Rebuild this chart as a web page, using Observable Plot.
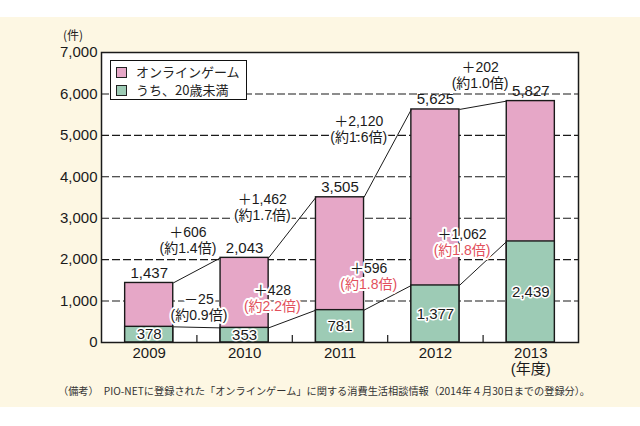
<!DOCTYPE html>
<html>
<head>
<meta charset="utf-8">
<script src="https://cdn.jsdelivr.net/npm/d3@7"></script>
<script src="https://cdn.jsdelivr.net/npm/@observablehq/plot@0.6"></script>
<style>
  body { margin: 0; background: #ffffff; }
  #wrap { position: relative; width: 640px; height: 426px; overflow: hidden; background: #ffffff;
          font-family: "Liberation Sans", "Noto Sans CJK JP", sans-serif; color: #222; }
  #cream { position: absolute; left: 0; top: 17px; width: 640px; height: 390px; background: #fdf7e3; }
  #chart { position: absolute; left: 0; top: 0; }
  #unit { position: absolute; left: 63px; top: 26px; font-size: 12px; font-family: "Noto Sans CJK JP", sans-serif; }
  #legend { position: absolute; left: 110px; top: 60px; width: 135px; height: 38px; border: 1.5px solid #111;
            background: #fff; font-family: "Noto Sans CJK JP", sans-serif; font-size: 13px; }
  .item { position: absolute; left: 5px; height: 14px; line-height: 14px; white-space: nowrap; }
  .sw { display: inline-block; width: 9px; height: 9px; border: 1px solid #222; vertical-align: -1px; margin-right: 9px; }
  #caption { position: absolute; left: 58px; top: 385px; font-size: 10.2px; line-height: 12px; white-space: nowrap;
             font-family: "Noto Sans CJK JP", sans-serif; color: #333; }
</style>
</head>
<body>
<div id="wrap">
  <div id="cream"></div>
  <div id="chart"></div>
  <div id="unit"></div>
  <div id="legend"></div>
  <div id="caption"></div>
</div>
<script>
// ---- data ----
const years = ["2009", "2010", "2011", "2012", "2013"];
const totalCases = [1437, 2043, 3505, 5625, 5827];
const under20Cases = [378, 353, 781, 1377, 2439];
const totalChangeLabels = ["＋606", "＋1,462", "＋2,120", "＋202"];
const totalRatioLabels = ["(約1.4倍)", "(約1.7倍)", "(約1.6倍)", "(約1.0倍)"];
const under20ChangeLabels = ["－25", "＋428", "＋596", "＋1,062"];
const under20RatioLabels = ["(約0.9倍)", "(約2.2倍)", "(約1.8倍)", "(約1.8倍)"];
const yTicks = [0, 1000, 2000, 3000, 4000, 5000, 6000, 7000];
const seriesNames = ["オンラインゲーム", "うち、20歳未満"];
const unitLabel = "(件)";
const xUnitLabel = "(年度)";
const captionText = "（備考）　PIO-NETに登録された「オンラインゲーム」に関する消費生活相談情報（2014年４月30日までの登録分）。";

// ---- layout / style ----
const pink = "#e6a7c7";
const green = "#9dcbb5";
const red = "#e2505c";
const ink = "#1a1a1a";
const barHalf = 0.252;
// pixel offsets of annotation blocks relative to the midpoint of each connector
const totalOffsets = [[-9, -30], [-30, -20], [-29, -24], [-3, -30]];
const u20Offsets = [[2, -20], [-20, -20], [-19, -21], [-21, -21]];

const rows = years.map((year, k) => ({ i: k + 1, year, total: totalCases[k], u20: under20Cases[k] }));
const pairs = rows.slice(0, -1).map((a, k) => ({ a, b: rows[k + 1], k }));
const fmt = d3.format(",");

const marks = [
  Plot.frame({ fill: "white" }),
  Plot.ruleY(yTicks.filter(v => v > 0 && v < 7000), { stroke: ink, strokeWidth: 1.1, strokeDasharray: "8,3" }),
  Plot.ruleX(pairs, { x: p => p.a.i + 0.5, y1: 0, y2: 170, stroke: ink, strokeWidth: 1.2 }),
  Plot.rectY(rows, { x1: d => d.i - barHalf, x2: d => d.i + barHalf, y1: 0, y2: "total", fill: pink, stroke: ink, strokeWidth: 1.4 }),
  Plot.rectY(rows, { x1: d => d.i - barHalf, x2: d => d.i + barHalf, y1: 0, y2: "u20", fill: green, stroke: ink, strokeWidth: 1.4 }),
  Plot.link(pairs, { x1: p => p.a.i + barHalf, y1: p => p.a.total, x2: p => p.b.i - barHalf, y2: p => p.b.total, stroke: ink, strokeWidth: 1 }),
  Plot.link(pairs, { x1: p => p.a.i + barHalf, y1: p => p.a.u20, x2: p => p.b.i - barHalf, y2: p => p.b.u20, stroke: ink, strokeWidth: 1 }),
  Plot.text(rows, { x: "i", y: "total", text: d => fmt(d.total), dy: -10, fontSize: 15, fill: ink }),
  Plot.text(rows, { x: "i", y: d => d.u20 / 2, text: d => fmt(d.u20), fontSize: 15, fill: ink, stroke: "white", strokeWidth: 3 })
];

pairs.forEach((p, k) => {
  const tx = p.a.i + 0.5, ty = (p.a.total + p.b.total) / 2;
  const [tdx, tdy] = totalOffsets[k];
  marks.push(Plot.text([p], { x: () => tx, y: () => ty, text: () => totalChangeLabels[k], dx: tdx, dy: tdy - 8, fontSize: 14, fill: ink, stroke: "white", strokeWidth: 4 }));
  marks.push(Plot.text([p], { x: () => tx, y: () => ty, text: () => totalRatioLabels[k], dx: tdx, dy: tdy + 8, fontSize: 14, fill: ink, stroke: "white", strokeWidth: 4 }));
  const uy = (p.a.u20 + p.b.u20) / 2;
  const [udx, udy] = u20Offsets[k];
  marks.push(Plot.text([p], { x: () => tx, y: () => uy, text: () => under20ChangeLabels[k], dx: udx, dy: udy - 8, fontSize: 14, fill: ink, stroke: "white", strokeWidth: 4 }));
  marks.push(Plot.text([p], { x: () => tx, y: () => uy, text: () => under20RatioLabels[k], dx: udx, dy: udy + 8, fontSize: 14, fill: k === 0 ? ink : red, stroke: "white", strokeWidth: 4 }));
});

marks.push(
  Plot.frame({ stroke: ink, strokeWidth: 1.5 }),
  Plot.axisY({ ticks: yTicks, tickFormat: fmt, tickSize: 0, tickPadding: 4, fontSize: 15, label: null, fill: ink }),
  Plot.axisX({ ticks: rows.map(d => d.i), tickFormat: v => years[v - 1], tickSize: 0, tickPadding: 5, fontSize: 15, label: null, fill: ink }),
  Plot.text([xUnitLabel], { x: () => years.length, y: () => 0, text: d => d, dy: 27, fontSize: 15, fill: ink, lineAnchor: "middle" })
);

const chart = Plot.plot({
  width: 640,
  height: 426,
  marginLeft: 101,
  marginRight: 62,
  marginTop: 52,
  marginBottom: 84,
  x: { type: "linear", domain: [0.5, years.length + 0.5] },
  y: { domain: [0, 7000] },
  style: { background: "transparent", fontFamily: "\"Liberation Sans\", \"Noto Sans CJK JP\", sans-serif", color: ink, overflow: "visible" },
  marks
});
document.getElementById("chart").appendChild(chart);

document.getElementById("unit").textContent = unitLabel;
document.getElementById("caption").textContent = captionText;
const legend = document.getElementById("legend");
[pink, green].forEach((c, k) => {
  const it = document.createElement("div");
  it.className = "item";
  it.style.top = (4 + k * 18) + "px";
  const sw = document.createElement("span");
  sw.className = "sw";
  sw.style.background = c;
  it.appendChild(sw);
  it.appendChild(document.createTextNode(seriesNames[k]));
  legend.appendChild(it);
});
</script>
</body>
</html>
